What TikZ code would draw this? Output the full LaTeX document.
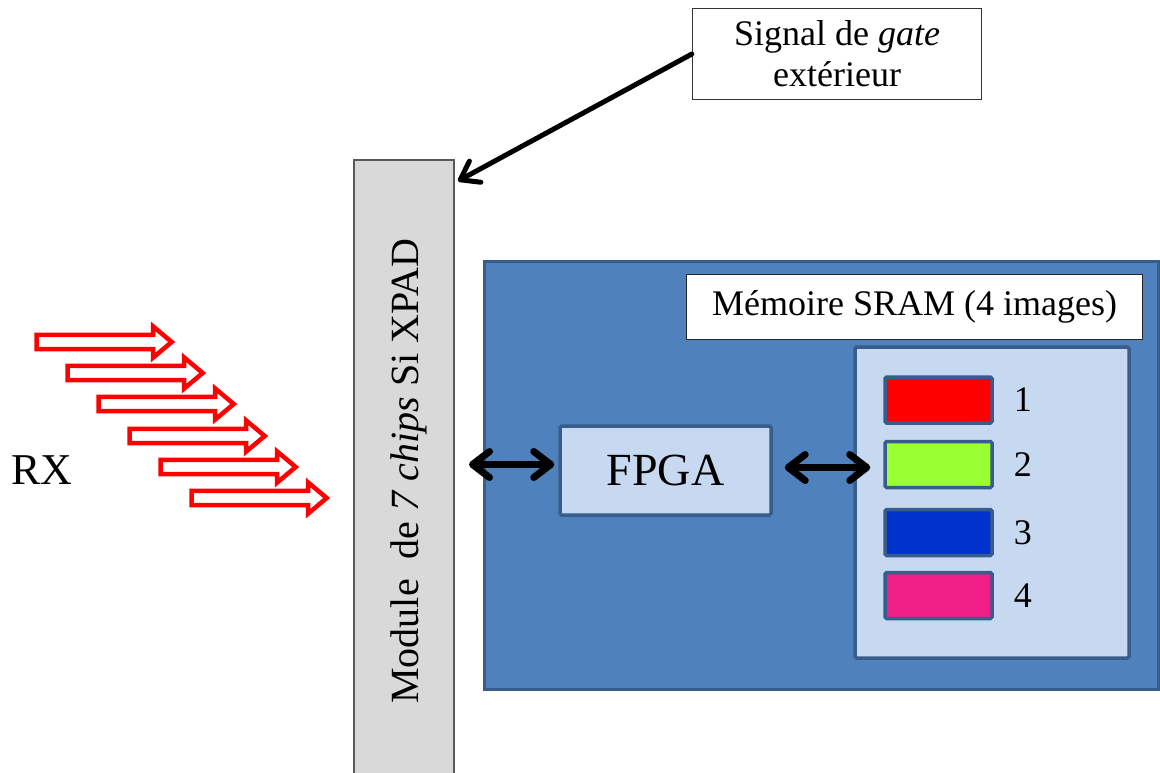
\documentclass[tikz,border=0pt]{standalone}
\usepackage{fontspec}
\setmainfont{Liberation Serif}
\usepackage{tikz}
\usetikzlibrary{positioning,arrows.meta,shapes.arrows}
\definecolor{bgblue}{RGB}{79,129,189}
\definecolor{edgeblue}{RGB}{56,93,138}
\definecolor{paleblue}{RGB}{198,217,240}
\definecolor{modgray}{RGB}{217,217,217}
\definecolor{imgred}{RGB}{255,0,0}
\definecolor{imggreen}{RGB}{153,255,51}
\definecolor{imgblue}{RGB}{0,51,204}
\definecolor{imgpink}{RGB}{240,30,135}

\begin{document}
\begin{tikzpicture}[x=1pt, y=-1pt,
  ray/.style={single arrow, draw=red, fill=white, line width=4.5pt,
    minimum height=135pt, inner xsep=0pt, inner ysep=4.8pt,
    single arrow head extend=8.5pt, single arrow tip angle=80},
  panel/.style={draw=edgeblue, fill=paleblue, line width=3.5pt,
    rounded corners=1.5pt},
  slot/.style={draw=edgeblue, line width=3.5pt, rounded corners=1.5pt,
    minimum width=107pt, minimum height=46pt},
  lbl/.style={font=\fontsize{36}{40}\selectfont, inner sep=0pt},
  dbl/.style={{Straight Barb[round,length=17pt,width=26pt]}-{Straight Barb[round,length=17pt,width=26pt]},
    line width=7pt, line cap=round},
  gatearr/.style={-{Straight Barb[round,length=17pt,width=24pt]},
    line width=5pt, line cap=round},
]
  \useasboundingbox (0,0) rectangle (1160,773);

  % incoming X-rays
  \node[ray] (ray1) at (100,342) {};
  \node[ray] (ray2) at (131,373) {};
  \node[ray] (ray3) at (162,404) {};
  \node[ray] (ray4) at (193,436) {};
  \node[ray] (ray5) at (224,467) {};
  \node[ray] (ray6) at (255,498) {};
  \node[font=\fontsize{44}{48}\selectfont, inner sep=0pt] (rx) at (42,470) {RX};

  % detector module
  \node[draw=black!65, fill=modgray, line width=2pt,
    minimum width=100pt, minimum height=624pt] (modbar) at (404,472) {};
  \node[font=\fontsize{40}{44}\selectfont, inner sep=0pt, rotate=90,
    anchor=base] (modtxt) at (418,471)
    {Module\ \ de \textit{7 chips} Si XPAD};

  % gate signal
  \node[draw=black!80, line width=1.2pt, fill=white, align=center,
    minimum width=289pt, minimum height=91pt,
    font=\fontsize{36}{41}\selectfont] (gate) at (837,54)
    {Signal de \textit{gate}\\extérieur};
  \coordinate (gatein) at ([yshift=-22pt]modbar.north east);
  \draw[gatearr] (gate.west) -- ([xshift=3pt]gatein);

  % readout board
  \node[draw=edgeblue, fill=bgblue, line width=3pt,
    minimum width=674pt, minimum height=428pt] (board) at (821,475) {};
  \node[draw=black!85, fill=white, line width=1pt, lbl,
    minimum width=456pt, minimum height=65pt] (sram) at (914.5,307)
    {Mémoire SRAM (4 images)};
  \node[panel, minimum width=274pt, minimum height=311pt] (mem) at (992,502.5) {};
  \node[panel, minimum width=211pt, minimum height=89pt,
    font=\fontsize{46}{50}\selectfont] (fpga) at (665.5,470.5) {FPGA};

  % image buffers
  \node[slot, fill=imgred] (img1) at (938.5,400) {};
  \node[slot, fill=imggreen] (img2) at (938.5,464.5) {};
  \node[slot, fill=imgblue] (img3) at (938.5,532.5) {};
  \node[slot, fill=imgpink] (img4) at (938.5,595.5) {};
  \node[lbl, right=20pt of img1] (n1) {1};
  \node[lbl, right=20pt of img2] (n2) {2};
  \node[lbl, right=20pt of img3] (n3) {3};
  \node[lbl, right=20pt of img4] (n4) {4};

  \draw[dbl] ([xshift=14pt,yshift=6pt]modbar.east |- fpga.west) -- ([xshift=-4pt,yshift=6pt]fpga.west);
  \draw[dbl] ([xshift=12pt,yshift=3pt]fpga.east) -- ([xshift=-13pt,yshift=3pt]fpga.east -| img2.west);
\end{tikzpicture}
\end{document}
